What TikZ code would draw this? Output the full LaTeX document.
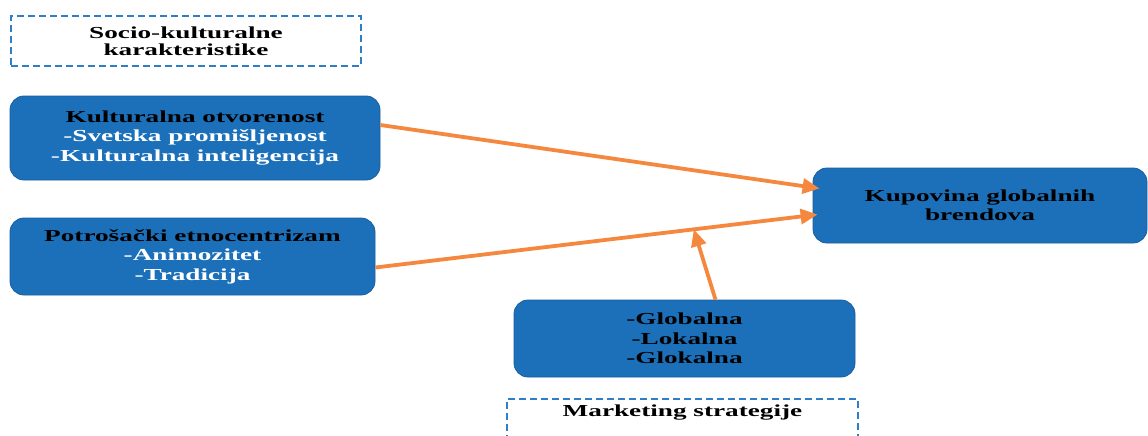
\documentclass[tikz,border=0pt]{standalone}
\usepackage{fontspec}
\setmainfont{Liberation Serif}[FakeStretch=1.62]
\usepackage{tikz}
\usetikzlibrary{arrows.meta,calc}

\definecolor{boxblue}{HTML}{1B70B9}
\definecolor{boxedge}{HTML}{1A5E9E}
\definecolor{dashblue}{HTML}{2E7FC8}
\definecolor{arroworange}{HTML}{F5883F}

\tikzset{
  bluebox/.style={draw=boxedge, line width=0.8pt, fill=boxblue, rounded corners=14pt,
    align=center, inner sep=0pt, font=\bfseries\fontsize{16.8}{19.5}\selectfont},
  dashbox/.style={draw=dashblue, line width=2pt, dash pattern=on 7pt off 4pt,
    align=center, inner sep=0pt, font=\bfseries\fontsize{16.8}{17}\selectfont},
  link/.style={draw=arroworange, line width=3.8pt, -{Triangle[length=17pt,width=15pt]}}
}

\begin{document}
\begin{tikzpicture}[x=1pt,y=-1pt]
\useasboundingbox (0,0) rectangle (1148,436);

% headings
\node[dashbox, minimum width=350pt, minimum height=50pt] (soc) at (186,41)
  {Socio-kulturalne\\karakteristike};
\node[dashbox, minimum width=351pt, anchor=north, inner ysep=6pt, text depth=30pt] (mkt) at (682.5,398)
  {Marketing strategije};

% factors
\node[bluebox, minimum width=370pt, minimum height=84pt] (kult) at (195,138)
  {Kulturalna otvorenost\\\textcolor{white}{-Svetska promišljenost}\\\textcolor{white}{-Kulturalna inteligencija}};
\node[bluebox, minimum width=365pt, minimum height=77pt] (etno) at (192.5,256.5)
  {Potrošački etnocentrizam\\\textcolor{white}{-Animozitet}\\\textcolor{white}{-Tradicija}};
\node[bluebox, minimum width=341pt, minimum height=77pt] (strat) at (684.5,338.5)
  {-Globalna\\-Lokalna\\-Glokalna};
\node[bluebox, minimum width=334pt, minimum height=75pt] (kup) at (980,205.5)
  {Kupovina globalnih\\brendova};

% connectors
\coordinate (e1) at ([yshift=-11pt]etno.east);
\coordinate (k2) at ([shift={(5pt,-9pt)}]kup.west);
\coordinate (m) at ($(e1)!0.72!(k2)$);
\draw[link] ([yshift=13pt]kult.east) -- ([shift={(7pt,17pt)}]kup.west);
\draw[link] (e1) -- (k2);
\draw[link] ([xshift=31pt]strat.north) -- (m);
\end{tikzpicture}
\end{document}
